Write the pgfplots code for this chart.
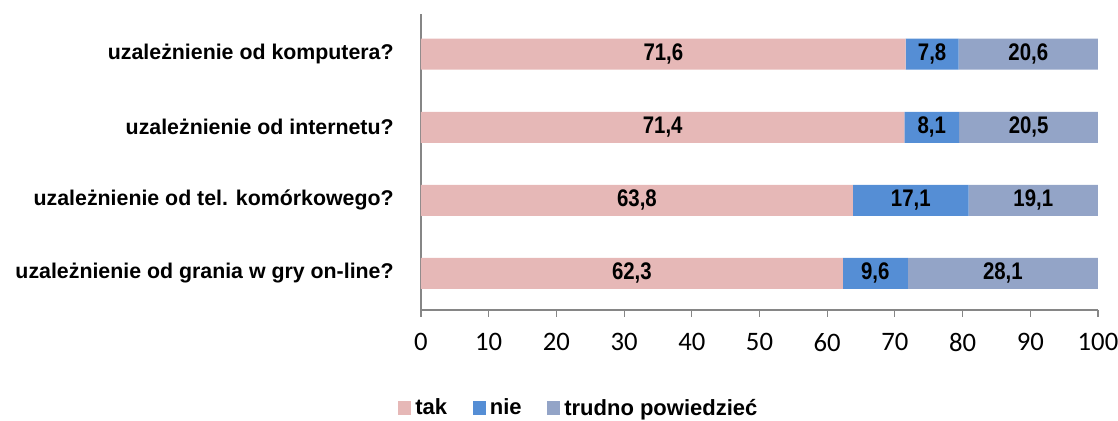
\documentclass[border=0pt]{standalone}
\usepackage{pgfplots}
\pgfplotsset{compat=1.18}
\usepackage{fontspec}
\setmainfont{Liberation Sans}
\newfontfamily\carlito{Carlito}
\newfontfamily\narrow[FakeStretch=0.85]{Liberation Sans}
\definecolor{tak}{HTML}{E6B8B7}
\definecolor{nie}{HTML}{558ED5}
\definecolor{trudno}{HTML}{93A4C7}
\definecolor{axgray}{HTML}{868686}
\begin{document}
\begin{tikzpicture}
\useasboundingbox (-315.75pt,-83.25pt) rectangle (522.75pt,232.5pt);
\begin{axis}[
  at={(0,0)}, anchor=south west,
  scale only axis, width=507.75pt, height=222pt,
  xbar stacked, bar width=23.25pt,
  xmin=0, xmax=100, ymin=-0.5, ymax=3.55,
  axis x line*=bottom, axis y line*=left,
  axis line style={axgray, line width=0.8pt},
  tick align=outside,
  xtick={0,10,...,100},
  major tick length=5pt,
  every tick/.style={axgray, line width=0.8pt},
  xticklabel style={font=\carlito\fontsize{20}{24}\selectfont, /pgf/number format/assume math mode=true, yshift=-9pt},
  ytick={0,1,2,3},
  yticklabels={uzależnienie od grania w gry on-line?, uzależnienie od tel. komórkowego?, uzależnienie od internetu?, uzależnienie od komputera?},
  yticklabel style={font=\bfseries\fontsize{16}{19}\selectfont, xshift=-12pt},
  y tick style={draw=none},
  minor ytick={-0.5,0.5,1.5,2.5,3.5},
  minor tick length=5pt,
  minor tick style={axgray, line width=0.8pt},
  x tick style={axgray, line width=0.8pt},
  visualization depends on=rawx \as \rawx,
  nodes near coords={\pgfmathprintnumber[fixed, fixed zerofill, precision=1, use comma, assume math mode=true]{\rawx}},
  every node near coord/.append style={anchor=center, font=\narrow\bfseries\fontsize{18}{21}\selectfont, text=black},
  legend style={at={(0.2335,-0.331)}, anchor=center, draw=none, legend columns=-1, font=\bfseries\fontsize{16.5}{19}\selectfont, /tikz/every even column/.append style={column sep=17pt}, /tikz/every odd column/.append style={column sep=1pt}},
  legend image code/.code={\fill[#1] (0pt,-5pt) rectangle (10pt,5pt);},
]
\addplot[fill=tak, draw=none] coordinates {(62.3,0) (63.8,1) (71.4,2) (71.6,3)};
\addplot[fill=nie, draw=none] coordinates {(9.6,0) (17.1,1) (8.1,2) (7.8,3)};
\addplot[fill=trudno, draw=none] coordinates {(28.1,0) (19.1,1) (20.5,2) (20.6,3)};
\legend{tak, nie, trudno powiedzieć}
\end{axis}
\end{tikzpicture}
\end{document}
